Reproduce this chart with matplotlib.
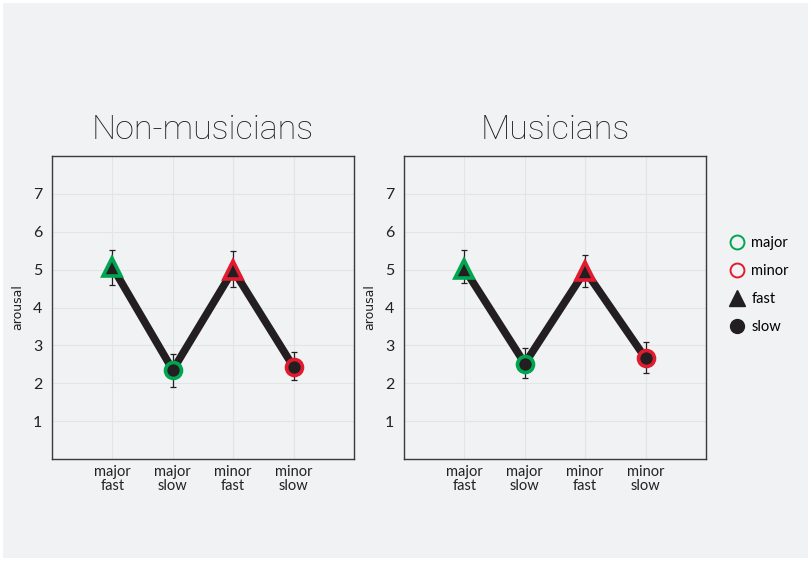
import matplotlib
matplotlib.use("Agg")
import matplotlib.pyplot as plt
from matplotlib.lines import Line2D
from matplotlib.patches import Rectangle

# ---- data ----
categories = ["major\nfast", "major\nslow", "minor\nfast", "minor\nslow"]
modes = ["major", "major", "minor", "minor"]
tempos = ["fast", "slow", "fast", "slow"]

nonmus_mean = [5.07, 2.35, 4.99, 2.43]
nonmus_lo = [4.60, 1.91, 4.55, 2.08]
nonmus_hi = [5.52, 2.76, 5.49, 2.82]

mus_mean = [5.02, 2.52, 4.97, 2.66]
mus_lo = [4.65, 2.15, 4.55, 2.27]
mus_hi = [5.52, 2.92, 5.39, 3.09]

panel_titles = ["Non-musicians", "Musicians"]
y_ticks = [1, 2, 3, 4, 5, 6, 7]

GREEN = "#00a551"
RED = "#e01b2f"
INK = "#231f20"
BG = "#f1f2f4"
mode_color = {"major": GREEN, "minor": RED}

FONT = "Lato"

W, H = 811, 561
fig = plt.figure(figsize=(W / 100, H / 100), dpi=100, facecolor="white")
fig.patches.append(Rectangle((3 / W, 3 / H), 1 - 6 / W, 1 - 6 / H,
                             transform=fig.transFigure, facecolor=BG,
                             edgecolor="none", zorder=-10))


def draw_panel(left, mean, lo, hi, title):
    ax = fig.add_axes([left / W, (H - 459) / H, 302 / W, 303 / H])
    ax.set_facecolor(BG)
    x = list(range(1, len(categories) + 1))
    ax.plot(x, mean, color=INK, lw=5.5, zorder=2, solid_joinstyle="miter")
    yerr = [[m - l for m, l in zip(mean, lo)], [h - m for m, h in zip(mean, hi)]]
    ax.errorbar(x, mean, yerr=yerr, fmt="none", ecolor=INK, elinewidth=0.9,
                capsize=2.5, capthick=0.9, zorder=3)
    for xi, m, md, tp in zip(x, mean, modes, tempos):
        if tp == "fast":
            ax.plot(xi, m, marker="^", ms=13, mfc=INK, mec=mode_color[md],
                    mew=2.6, zorder=4)
        else:
            ax.plot(xi, m, marker="o", ms=11.5, mfc=INK, mec=mode_color[md],
                    mew=2.6, zorder=4)
    ax.set_xlim(0, 5)
    ax.set_ylim(0, 8)
    ax.set_xticks(x)
    ax.set_xticklabels(categories, fontsize=10.5, family=FONT, color="#222222",
                       linespacing=1.05)
    ax.set_yticks(y_ticks)
    ax.set_yticklabels([str(t) for t in y_ticks], fontsize=11.5, family=FONT,
                       color="#222222")
    ax.tick_params(length=0, pad=7)
    ax.tick_params(axis="x", pad=4)
    ax.grid(True, color="#e3e4e6", lw=0.8)
    ax.set_axisbelow(True)
    for s in ax.spines.values():
        s.set_color("#3a3a3a")
        s.set_linewidth(1.0)
    ax.set_ylabel("arousal", fontsize=9, color="#222222", labelpad=6)
    ax.set_title(title, fontsize=24.5, family="Roboto", fontweight="light",
                 color="#1e1e1e", pad=12)
    return ax


draw_panel(52, nonmus_mean, nonmus_lo, nonmus_hi, panel_titles[0])
draw_panel(404, mus_mean, mus_lo, mus_hi, panel_titles[1])

# legend for colour (mode) and marker (tempo)
handles = [
    Line2D([], [], marker="o", ls="none", ms=10, mfc="none", mec=GREEN, mew=1.4),
    Line2D([], [], marker="o", ls="none", ms=10, mfc="none", mec=RED, mew=1.4),
    Line2D([], [], marker="^", ls="none", ms=11, mfc=INK, mec=INK),
    Line2D([], [], marker="o", ls="none", ms=10, mfc=INK, mec=INK),
]
fig.legend(handles, ["major", "minor", "fast", "slow"],
           loc="upper left", bbox_to_anchor=(715 / W, 1 - 223 / H),
           frameon=False, prop={"family": FONT, "size": 10.5},
           handletextpad=0.4, labelspacing=0.95, handlelength=1.2)

fig.savefig("out.png", dpi=100, facecolor=fig.get_facecolor())
